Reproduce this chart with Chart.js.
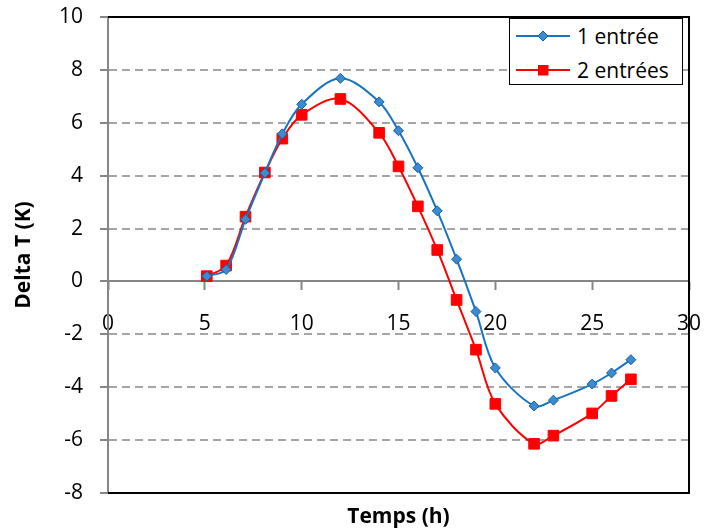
<!DOCTYPE html>
<html>
<head>
<meta charset="utf-8">
<script src="https://cdn.jsdelivr.net/npm/chart.js@4"></script>
<style>
    body { margin: 0; background: #fff; }
    #wrap { position: relative; width: 705px; height: 532px; overflow: hidden; }
    #legend {
        position: absolute; left: 509px; top: 18px; width: 172px; height: 65px;
        border: 1.5px solid #000; background: #fff;
        font-family: "Open Sans", sans-serif; font-size: 21px; color: #000;
    }
    .row { position: absolute; left: 6px; height: 24px; display: flex; align-items: center; }
    .row svg { margin-right: 7px; }
</style>
</head>
<body>
<div id="wrap">
    <canvas id="chart" width="705" height="532"></canvas>
    <div id="legend"></div>
</div>
<script>
// Data
const hours = [5.1, 6.1, 7.1, 8.1, 9, 10, 12, 14, 15, 16, 17, 18, 19, 20, 22, 23, 25, 26, 27];
const oneInlet = [0.2, 0.45, 2.35, 4.1, 5.58, 6.7, 7.68, 6.79, 5.7, 4.3, 2.67, 0.84, -1.14, -3.27, -4.71, -4.49, -3.88, -3.46, -2.96];
const twoInlets = [0.2, 0.6, 2.45, 4.12, 5.4, 6.3, 6.9, 5.62, 4.35, 2.84, 1.19, -0.7, -2.58, -4.63, -6.14, -5.83, -4.99, -4.33, -3.7];
const seriesNames = ['1 entrée', '2 entrées'];
const xTicks = { min: 0, max: 30, step: 5 };
const yTicks = { min: -8, max: 10, step: 2 };

const BLUE = '#1874c2';
const RED = '#ff0000';
const GRAY = '#868686';

Chart.defaults.font.family = '"Open Sans", sans-serif';
Chart.defaults.color = '#000';

// Black frame on top, right and bottom of the plot area
const framePlugin = {
    id: 'frame',
    beforeDatasetsDraw(chart) {
        const { ctx, chartArea: a } = chart;
        ctx.save();
        ctx.strokeStyle = '#000';
        ctx.lineWidth = 2;
        ctx.beginPath();
        ctx.moveTo(a.left, a.top);
        ctx.lineTo(a.right, a.top);
        ctx.lineTo(a.right, a.bottom);
        ctx.lineTo(a.left, a.bottom);
        ctx.stroke();
        ctx.restore();
    }
};

const toPoints = (ys) => hours.map((h, i) => ({ x: h, y: ys[i] }));

const chart = new Chart(document.getElementById('chart'), {
    type: 'line',
    data: {
        datasets: [{
            label: seriesNames[0],
            data: toPoints(oneInlet),
            xAxisID: 'x',
            borderColor: BLUE,
            borderWidth: 2,
            tension: 0.33,
            pointStyle: 'rectRot',
            pointRadius: 5,
            pointBackgroundColor: '#3b8ad2',
            pointBorderColor: '#14609f',
            pointBorderWidth: 1
        }, {
            label: seriesNames[1],
            data: toPoints(twoInlets),
            xAxisID: 'x',
            borderColor: RED,
            borderWidth: 2,
            tension: 0.33,
            pointStyle: 'rect',
            pointRadius: 7.5,
            pointBackgroundColor: RED,
            pointBorderColor: RED,
            pointBorderWidth: 1
        }]
    },
    options: {
        responsive: false,
        animation: false,
        layout: { padding: { top: 17, right: 16, bottom: 0, left: 0 } },
        plugins: {
            legend: { display: false },
            tooltip: { enabled: false }
        },
        scales: {
            x: {
                type: 'linear',
                position: { y: 0 },
                min: xTicks.min,
                max: xTicks.max,
                afterFit(scale) {
                    scale.height = 0;
                    scale.paddingLeft = 0;
                    scale.paddingRight = 0;
                },
                ticks: { stepSize: xTicks.step, padding: 22, font: { size: 21 }, maxRotation: 0 },
                grid: { drawOnChartArea: false, tickLength: 8, tickColor: GRAY, tickWidth: 2 },
                border: { color: GRAY, width: 2 }
            },
            xTitle: {
                type: 'linear',
                axis: 'x',
                position: 'bottom',
                afterFit(scale) {
                    scale.height = 39;
                    scale.paddingLeft = 0;
                    scale.paddingRight = 0;
                },
                ticks: { display: false },
                grid: { display: false, drawTicks: false },
                border: { display: false },
                title: {
                    display: true,
                    text: 'Temps (h)',
                    font: { size: 21, weight: 'bold' },
                    padding: { top: 0, bottom: 2 }
                }
            },
            y: {
                min: yTicks.min,
                max: yTicks.max,
                afterFit(scale) {
                    scale.width = 108;
                    scale.paddingTop = 0;
                    scale.paddingBottom = 0;
                },
                ticks: { stepSize: yTicks.step, padding: 17, font: { size: 21 } },
                grid: {
                    color: (c) => (c.tick && (c.tick.value === 0 || c.tick.value === yTicks.max || c.tick.value === yTicks.min)) ? 'rgba(0,0,0,0)' : '#a5a5a5',
                    lineWidth: 2,
                    tickLength: 8,
                    tickColor: GRAY,
                    tickWidth: 2,
                    tickBorderDash: []
                },
                border: { color: GRAY, width: 2, dash: [8, 5] },
                title: {
                    display: true,
                    text: 'Delta T (K)',
                    font: { size: 21, weight: 'bold' },
                    padding: { top: 11, bottom: 0 }
                }
            }
        }
    },
    plugins: [framePlugin]
});

// Legend box inside the plot, built from the dataset styles
function buildLegend() {
    const legend = document.getElementById('legend');
    const ds = chart.data.datasets;
    ds.forEach((d, i) => {
        const row = document.createElement('div');
        row.className = 'row';
        row.style.top = (5 + i * 34) + 'px';
        let marker;
        if (d.pointStyle === 'rectRot') {
            marker = `<polygon points="27,5 32,10 27,15 22,10" fill="${d.pointBackgroundColor}" stroke="${d.pointBorderColor}" stroke-width="1"/>`;
        } else {
            marker = `<rect x="22" y="5" width="10.5" height="10.5" fill="${d.pointBackgroundColor}"/>`;
        }
        row.innerHTML = `<svg width="54" height="20"><line x1="0" y1="10" x2="54" y2="10" stroke="${d.borderColor}" stroke-width="2"/>${marker}</svg><span>${d.label}</span>`;
        legend.appendChild(row);
    });
}
buildLegend();
</script>
</body>
</html>
